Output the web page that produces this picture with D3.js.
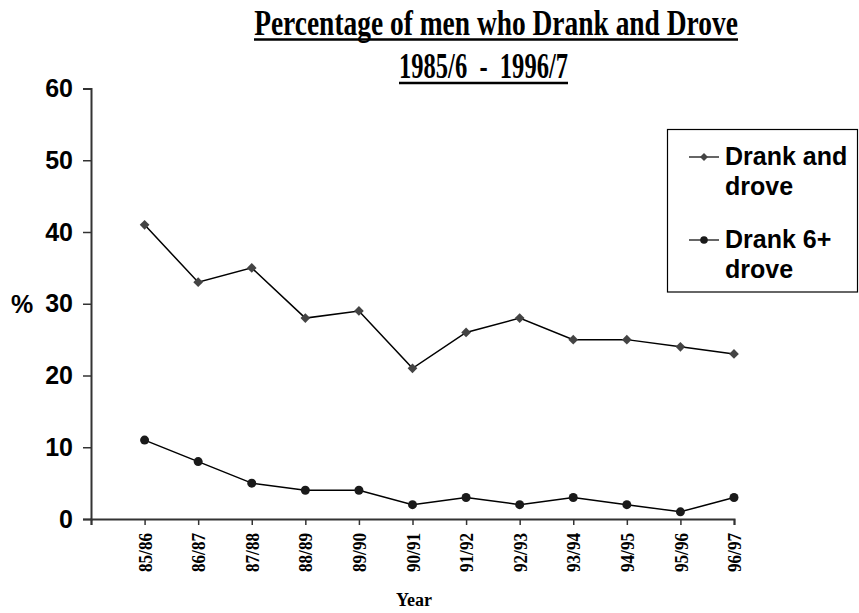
<!DOCTYPE html>
<html>
<head>
<meta charset="utf-8">
<script src="https://cdn.jsdelivr.net/npm/d3@7"></script>
<style>
  html, body { margin: 0; padding: 0; background: #fff; }
  svg { display: block; }
</style>
</head>
<body>
<svg id="chart" width="859" height="613"></svg>
<script>
// Survey years and the two drink-drive series (% of men)
const years = ["85/86", "86/87", "87/88", "88/89", "89/90", "90/91",
               "91/92", "92/93", "93/94", "94/95", "95/96", "96/97"];
const drankAndDrove = [41, 33, 35, 28, 29, 21, 26, 28, 25, 25, 24, 23];
const drank6Drove   = [11, 8, 5, 4, 4, 2, 3, 2, 3, 2, 1, 3];
const yTicks = [0, 10, 20, 30, 40, 50, 60];
const seriesNames = [["Drank and", "drove"], ["Drank 6+", "drove"]];

const svg = d3.select("#chart");
const sans = "Arial, 'Liberation Sans', sans-serif";
const serif = "'Times New Roman', 'Liberation Serif', serif";

// Category index -1 is an empty slot before the first year
const x = d3.scaleLinear().domain([-1, years.length - 1]).range([91, 734]);
const y = d3.scaleLinear().domain([0, 60]).range([519, 88.5]);

// Title (bold serif squeezed horizontally to a condensed look, underlined)
function titleLine(text, cx, baseline, len, underY) {
  const t = svg.append("text")
    .attr("x", 0).attr("y", 0)
    .attr("text-anchor", "middle")
    .attr("font-family", serif).attr("font-weight", "bold")
    .attr("font-size", 35)
    .style("white-space", "pre")
    .text(text);
  const natural = t.node().getComputedTextLength();
  t.attr("transform", `translate(${cx},${baseline}) scale(${len / natural},1)`);
  svg.append("line")
    .attr("x1", cx - len / 2).attr("x2", cx + len / 2)
    .attr("y1", underY).attr("y2", underY)
    .attr("stroke", "#000").attr("stroke-width", 2.5);
}
titleLine("Percentage of men who Drank and Drove", 496, 34.5, 484, 39.5);
titleLine("1985/6  -  1996/7", 483.5, 78, 169, 83);

// Y axis
const yAxis = d3.axisLeft(y).tickValues(yTicks).tickSize(8).tickPadding(10);
const gy = svg.append("g").attr("transform", "translate(91,0)").call(yAxis);
gy.select(".domain").attr("stroke", "#333").attr("stroke-width", 2);
gy.selectAll(".tick line").attr("stroke", "#333").attr("stroke-width", 1.5);
gy.selectAll(".tick text")
  .attr("font-family", sans).attr("font-weight", "bold")
  .attr("font-size", 25).attr("fill", "#000");

svg.append("text")
  .attr("x", 11).attr("y", y(30))
  .attr("dy", "0.35em")
  .attr("font-family", sans).attr("font-weight", "bold")
  .attr("font-size", 25)
  .text("%");

// X axis
const xAxis = d3.axisBottom(x)
  .tickValues(d3.range(-1, years.length))
  .tickSize(6)
  .tickFormat(i => i >= 0 ? years[i] : "");
const gx = svg.append("g").attr("transform", "translate(0,519)").call(xAxis);
gx.select(".domain").attr("stroke", "#333").attr("stroke-width", 2);
gx.selectAll(".tick line").attr("stroke", "#333").attr("stroke-width", 1.5);
gx.selectAll(".tick text")
  .attr("font-family", serif).attr("font-weight", "bold")
  .attr("font-size", 19).attr("fill", "#000")
  .attr("text-anchor", "end")
  .attr("transform", "rotate(-90)")
  .attr("x", -14).attr("y", 0).attr("dy", "0.35em")
  .attr("textLength", 39).attr("lengthAdjust", "spacingAndGlyphs");

svg.append("text")
  .attr("x", 414).attr("y", 606)
  .attr("text-anchor", "middle")
  .attr("font-family", serif).attr("font-weight", "bold")
  .attr("font-size", 18)
  .text("Year");

// Lines
const line = d3.line().x((d, i) => x(i)).y(d => y(d));
svg.append("path").datum(drankAndDrove)
  .attr("d", line).attr("fill", "none")
  .attr("stroke", "#000").attr("stroke-width", 1.5);
svg.append("path").datum(drank6Drove)
  .attr("d", line).attr("fill", "none")
  .attr("stroke", "#000").attr("stroke-width", 1.5);

// Markers
const diamond = d3.symbol().type(d3.symbolDiamond2).size(60);
svg.append("g").selectAll("path").data(drankAndDrove).join("path")
  .attr("d", diamond)
  .attr("transform", (d, i) => `translate(${x(i)},${y(d)})`)
  .attr("fill", "#444");
svg.append("g").selectAll("circle").data(drank6Drove).join("circle")
  .attr("cx", (d, i) => x(i)).attr("cy", d => y(d))
  .attr("r", 4.5).attr("fill", "#1a1a1a");

// Legend
const lg = svg.append("g");
lg.append("rect")
  .attr("x", 667.5).attr("y", 129.5).attr("width", 190).attr("height", 162.5)
  .attr("fill", "#fff").attr("stroke", "#000").attr("stroke-width", 1.2);
const rows = [
  { sy: 157, marker: "diamond" },
  { sy: 240, marker: "circle" }
];
rows.forEach((r, k) => {
  lg.append("line").attr("x1", 689).attr("x2", 719)
    .attr("y1", r.sy).attr("y2", r.sy)
    .attr("stroke", "#000").attr("stroke-width", 1.2);
  if (r.marker === "diamond") {
    lg.append("path").attr("d", d3.symbol().type(d3.symbolDiamond2).size(40))
      .attr("transform", `translate(704,${r.sy})`).attr("fill", "#444");
  } else {
    lg.append("circle").attr("cx", 704).attr("cy", r.sy).attr("r", 3.8)
      .attr("fill", "#1a1a1a");
  }
  const t = lg.append("text")
    .attr("font-family", sans).attr("font-weight", "bold")
    .attr("font-size", 25);
  t.append("tspan").attr("x", 725).attr("y", r.sy + 8).text(seriesNames[k][0]);
  t.append("tspan").attr("x", 725).attr("y", r.sy + 38).text(seriesNames[k][1]);
});
</script>
</body>
</html>
